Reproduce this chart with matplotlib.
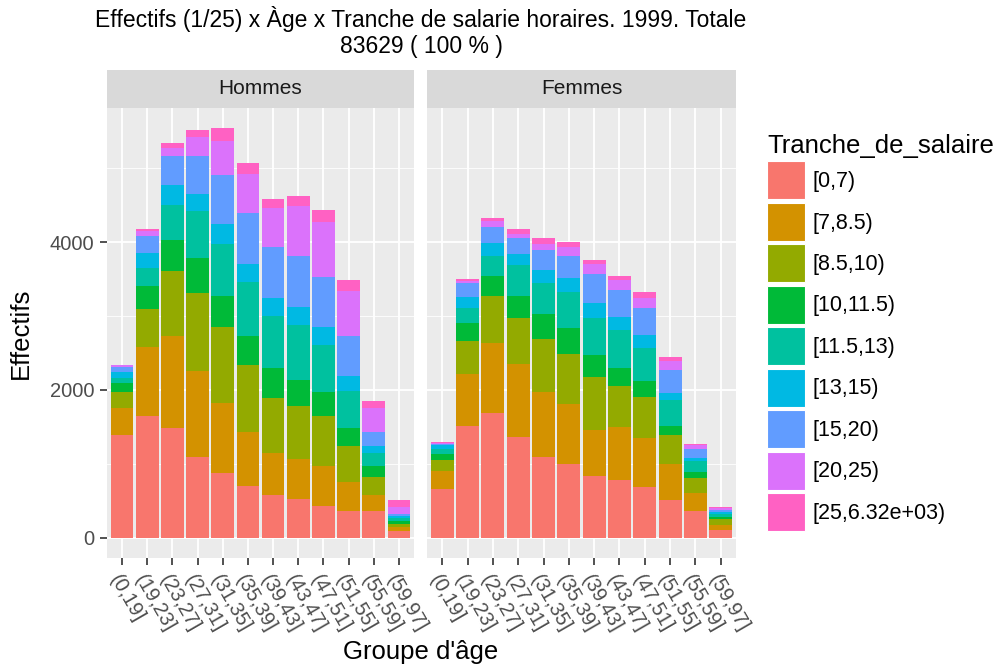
import numpy as np
import matplotlib
matplotlib.use("Agg")
import matplotlib.pyplot as plt
from matplotlib.patches import Patch

plt.rcParams['font.family'] = ['Liberation Sans', 'DejaVu Sans']

age_groups = ["(0,19]", "(19,23]", "(23,27]", "(27,31]", "(31,35]", "(35,39]",
              "(39,43]", "(43,47]", "(47,51]", "(51,55]", "(55,59]", "(59,97]"]
salary_brackets = ["[0,7)", "[7,8.5)", "[8.5,10)", "[10,11.5)", "[11.5,13)",
                   "[13,15)", "[15,20)", "[20,25)", "[25,6.32e+03)"]
colors = ["#F8766D", "#D39200", "#93AA00", "#00BA38", "#00C19F",
          "#00B9E3", "#619CFF", "#DB72FB", "#FF61C3"]

# counts per age group (rows) and salary bracket (columns)
hommes = [
    [1382, 370, 216, 127, 72, 72, 77, 14, 13],
    [1652, 931, 510, 320, 244, 194, 231, 63, 27],
    [1481, 1246, 880, 416, 487, 271, 389, 99, 77],
    [1093, 1169, 1052, 465, 637, 243, 511, 248, 95],
    [871, 953, 1025, 420, 704, 276, 659, 465, 167],
    [700, 736, 898, 398, 731, 248, 682, 533, 149],
    [578, 564, 754, 398, 704, 244, 686, 533, 126],
    [528, 542, 709, 361, 736, 244, 686, 682, 144],
    [433, 533, 686, 321, 637, 243, 682, 732, 171],
    [357, 392, 488, 244, 510, 203, 538, 609, 140],
    [357, 221, 244, 149, 176, 95, 194, 316, 95],
    [95, 45, 50, 40, 36, 32, 22, 91, 95],
]
femmes = [
    [655, 244, 145, 81, 68, 55, 22, 14, 13],
    [1514, 705, 443, 244, 199, 149, 195, 31, 18],
    [1681, 959, 637, 267, 275, 172, 213, 81, 45],
    [1365, 981, 633, 298, 416, 144, 226, 41, 77],
    [1094, 881, 710, 348, 416, 172, 271, 90, 72],
    [999, 809, 683, 348, 488, 194, 294, 122, 72],
    [832, 628, 710, 298, 511, 199, 393, 140, 54],
    [777, 715, 560, 249, 515, 167, 366, 145, 50],
    [683, 664, 556, 221, 443, 172, 366, 145, 72],
    [511, 488, 393, 122, 353, 90, 317, 122, 49],
    [366, 244, 199, 72, 150, 49, 118, 50, 18],
    [99, 73, 77, 36, 36, 27, 23, 27, 18],
]
panels = [("Hommes", hommes), ("Femmes", femmes)]

W, H = 998, 670
fig = plt.figure(figsize=(W / 100, H / 100), dpi=100)

def fig_rect(x0, y0, x1, y1):
    return [x0 / W, 1 - y1 / H, (x1 - x0) / W, (y1 - y0) / H]

panel_x = [(107, 414), (427, 736)]
ymax = max(max(np.sum(hommes, axis=1)), max(np.sum(femmes, axis=1)))
ylim = (-0.05 * ymax, 1.05 * ymax)

for i, (name, data) in enumerate(panels):
    x0, x1 = panel_x[i]
    ax = fig.add_axes(fig_rect(x0, 108, x1, 558))
    ax.set_facecolor("#EBEBEB")
    arr = np.array(data)
    x = np.arange(len(age_groups))
    bottom = np.zeros(len(age_groups))
    for j in range(len(salary_brackets)):
        ax.bar(x, arr[:, j], bottom=bottom, width=0.9, color=colors[j],
               linewidth=0, zorder=3)
        bottom += arr[:, j]
    ax.set_xlim(-0.6, len(age_groups) - 0.4)
    ax.set_ylim(*ylim)
    ax.set_yticks([0, 2000, 4000])
    ax.set_yticks([1000, 3000, 5000], minor=True)
    ax.grid(True, which="major", color="white", linewidth=1.3, zorder=0)
    ax.grid(True, which="minor", axis="y", color="white", linewidth=0.6, zorder=0)
    ax.set_axisbelow(True)
    for s in ax.spines.values():
        s.set_visible(False)
    ax.set_xticks(x)
    ax.set_xticklabels(age_groups, rotation=-60, ha="left", va="top",
                       rotation_mode="anchor", fontsize=14.5, color="#4D4D4D")
    ax.tick_params(axis="both", which="major", length=5, width=1.2,
                   color="#333333", labelsize=14.5, labelcolor="#4D4D4D", pad=4)
    ax.tick_params(axis="y", which="minor", length=0)
    ax.tick_params(axis="x", pad=5)
    if i == 0:
        ax.set_ylabel("Effectifs", fontsize=18.5, labelpad=12)
    else:
        ax.tick_params(axis="y", which="major", length=0, labelleft=False)

    sax = fig.add_axes(fig_rect(x0, 70, x1, 108))
    sax.set_facecolor("#D9D9D9")
    sax.set_xticks([])
    sax.set_yticks([])
    for s in sax.spines.values():
        s.set_visible(False)
    sax.text(0.5, 0.5, name, ha="center", va="center", fontsize=15,
             color="#1A1A1A", transform=sax.transAxes)

fig.text(421 / W, 1 - 19 / H, "Effectifs (1/25) x Àge x Tranche de salarie horaires. 1999. Totale",
         ha="center", va="center", fontsize=16.5)
fig.text(421 / W, 1 - 46 / H, "83629 ( 100 % )", ha="center", va="center", fontsize=16.5)
fig.text(421 / W, 1 - 652 / H, "Groupe d'âge", ha="center", va="center", fontsize=18.5)

handles = [Patch(facecolor=c, edgecolor="white", linewidth=0.8) for c in colors]
leg = fig.legend(handles, salary_brackets, title="Tranche_de_salaire",
                 loc="upper left", bbox_to_anchor=(767 / W, 1 - 134 / H),
                 frameon=False, fontsize=15.5, title_fontsize=18.5,
                 handlelength=1.77, handleheight=2.34, handletextpad=0.33,
                 labelspacing=0.16, borderaxespad=0, borderpad=0)
leg._legend_box.align = "left"

fig.savefig("out.png", dpi=100)
